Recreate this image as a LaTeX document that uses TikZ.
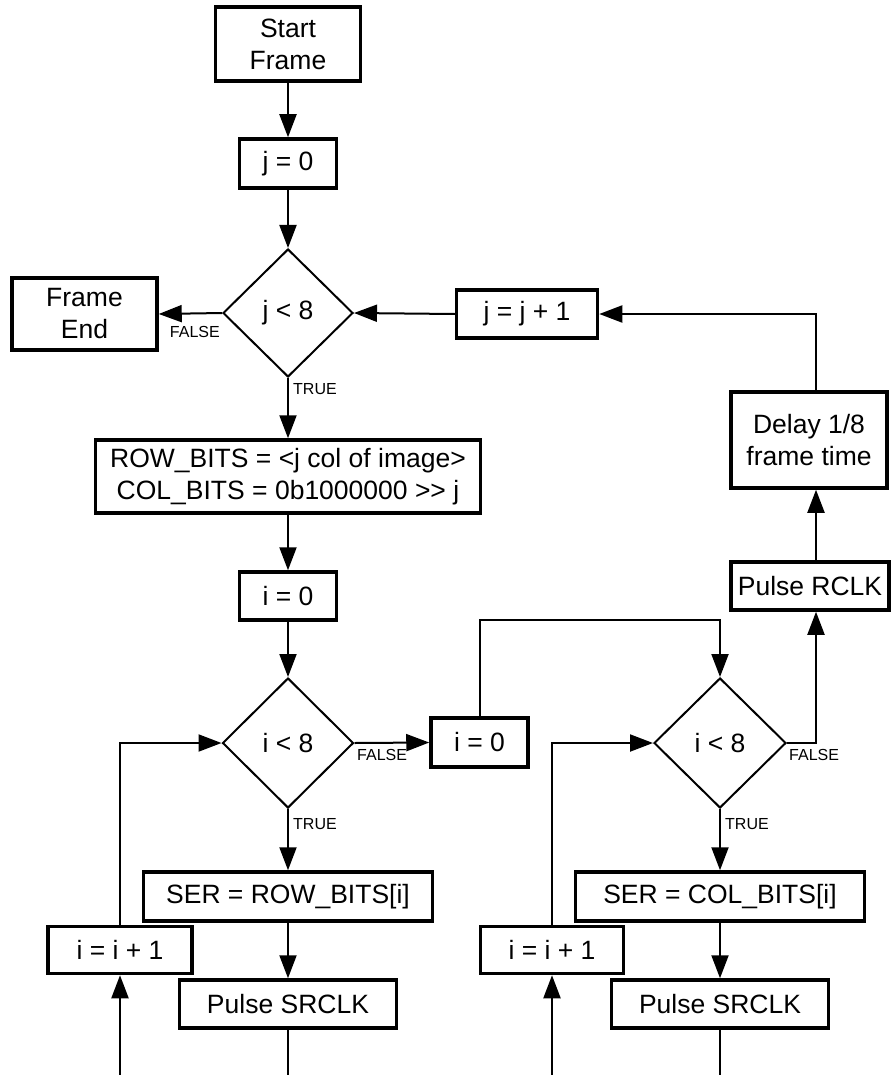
\documentclass[tikz,border=0pt]{standalone}
\usepackage{fontspec}
\setmainfont{Liberation Sans}
\usetikzlibrary{arrows.meta,shapes.geometric,calc}
\begin{document}
\begin{tikzpicture}[x=1pt,y=-1pt,
  box/.style={draw, line width=3.5pt, inner sep=0pt, align=center, font=\fontsize{26.5}{32}\selectfont},
  dia/.style={draw, diamond, line width=2pt, inner sep=0pt, font=\fontsize{26.5}{32}\selectfont},
  conn/.style={line width=2pt},
  arr/.style={conn, -{Triangle[length=23pt,width=17pt]}},
  lbl/.style={font=\fontsize{16}{19}\selectfont, inner sep=0pt}]
\useasboundingbox (0,0) rectangle (891,1075);
\coordinate (t1) at (0,620);
\coordinate (bot) at (0,1075);
\coordinate (rx) at (816,0);
% nodes
\node[box, minimum width=145pt, minimum height=74pt] (start) at (288,44) {Start\\Frame};
\node[box, minimum width=97pt, minimum height=49pt] (j0) at (288,163.5) {j = 0};
\node[dia, minimum width=130pt, minimum height=128pt] (d1) at (288,313) {j < 8};
\node[box, minimum width=145pt, minimum height=72pt] (fend) at (84.5,314) {Frame\\End};
\node[box, minimum width=141pt, minimum height=48pt] (jinc) at (527,314) {j = j + 1};
\node[box, minimum width=156pt, minimum height=96pt] (delay) at (809,440) {Delay 1/8\\frame time};
\node[box, minimum width=158pt, minimum height=48pt] (rclk) at (810,586) {Pulse RCLK};
\node[box, minimum width=385pt, minimum height=73pt] (row) at (288,476.5) {ROW\_BITS = <j col of image>\\COL\_BITS = 0b1000000 >{}> j};
\node[box, minimum width=97pt, minimum height=48pt] (iz1) at (288,596) {i = 0};
\node[dia, minimum width=131pt, minimum height=130pt] (d2) at (288,743) {i < 8};
\node[box, minimum width=97pt, minimum height=49pt] (iz2) at (479.5,742.5) {i = 0};
\node[dia, minimum width=132pt, minimum height=130pt] (d3) at (720,743) {i < 8};
\node[box, minimum width=289pt, minimum height=49pt] (ser1) at (288,896.5) {SER = ROW\_BITS[i]};
\node[box, minimum width=144pt, minimum height=47pt] (inc1) at (120,950) {i = i + 1};
\node[box, minimum width=217pt, minimum height=48pt] (pulse1) at (288,1004) {Pulse SRCLK};
\node[box, minimum width=289pt, minimum height=49pt] (ser2) at (720,896.5) {SER = COL\_BITS[i]};
\node[box, minimum width=143pt, minimum height=47pt] (inc2) at (552,950) {i = i + 1};
\node[box, minimum width=217pt, minimum height=48pt] (pulse2) at (720,1004) {Pulse SRCLK};
% labels
\node[lbl, anchor=base east] (f1) at (220,337) {FALSE};
\node[lbl, anchor=base west] (tr1) at (293,394) {TRUE};
\node[lbl, anchor=base west] (f2) at (357,760) {FALSE};
\node[lbl, anchor=base west] (tr2) at (293,829) {TRUE};
\node[lbl, anchor=base west] (f3) at (789,760) {FALSE};
\node[lbl, anchor=base west] (tr3) at (725,829) {TRUE};
% connectors
\draw[arr] (start) -- (j0);
\draw[arr] (j0) -- (d1);
\draw[arr] (d1.west) -- (fend.east);
\draw[arr] (d1.south) -- (row.north);
\draw[arr] (row) -- (iz1);
\draw[arr] (iz1) -- (d2);
\draw[arr] (d2.east) -- (iz2.west);
\draw[arr] (iz2.north) -- (iz2.north |- t1) -| (d3.north);
\draw[arr] (d2.south) -- (ser1.north);
\draw[arr] (ser1) -- (pulse1);
\draw[conn] (pulse1.south) -- (pulse1.south |- bot);
\draw[arr] (inc1.south |- bot) -- (inc1.south);
\draw[arr] (inc1.north) |- (d2.west);
\draw[arr] (d3.south) -- (ser2.north);
\draw[arr] (ser2) -- (pulse2);
\draw[conn] (pulse2.south) -- (pulse2.south |- bot);
\draw[arr] (inc2.south |- bot) -- (inc2.south);
\draw[arr] (inc2.north) |- (d3.west);
\draw[arr] (d3.east) -| (rclk.south -| rx);
\draw[arr] (rclk.north -| rx) -- (delay.south -| rx);
\draw[arr] (delay.north -| rx) |- (jinc.east);
\draw[arr] (jinc.west) -- (d1.east);
\end{tikzpicture}
\end{document}
